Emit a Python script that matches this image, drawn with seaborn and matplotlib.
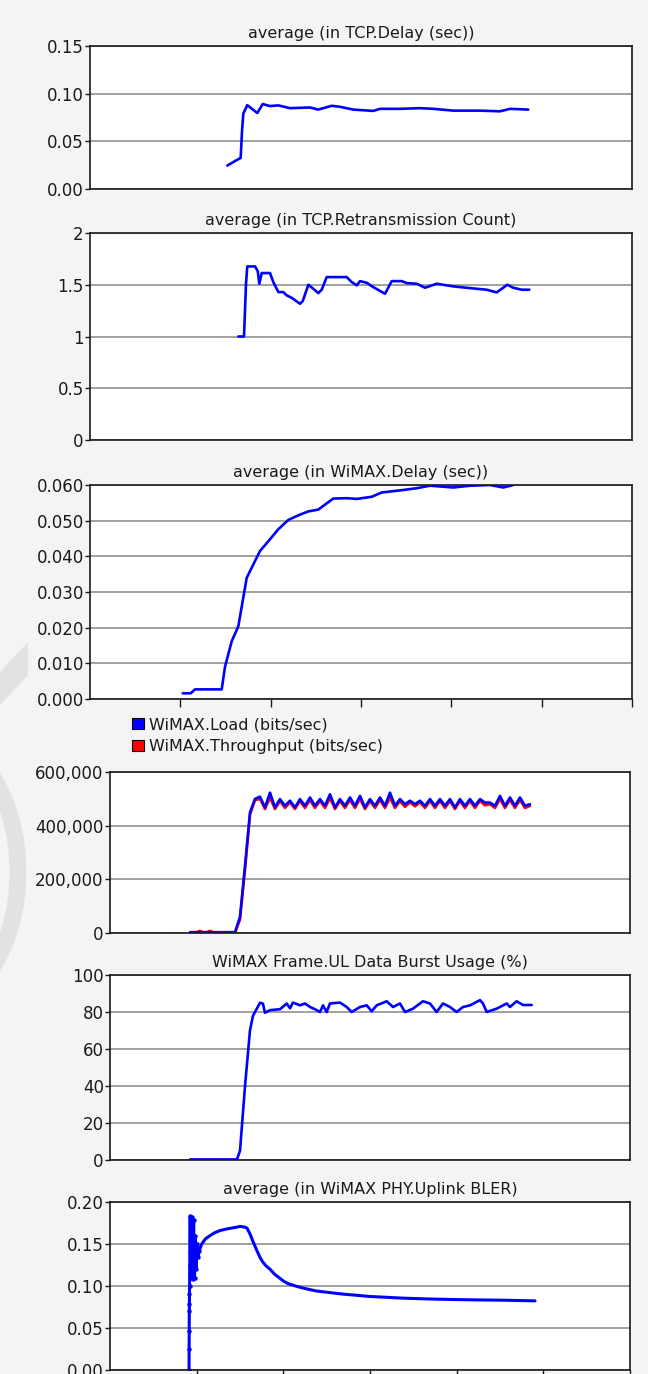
import numpy as np
import matplotlib
matplotlib.use("Agg")
import matplotlib.pyplot as plt
import seaborn as sns
from matplotlib.patches import Patch, Polygon, Ellipse

# ---------------- data (time axis in simulation intervals, 0..6) ----------------
tcp_delay_t = [1.520, 1.605, 1.668, 1.683, 1.697, 1.741, 1.852, 1.912, 1.993, 2.085,
               2.214, 2.436, 2.527, 2.676, 2.768, 2.915, 3.136, 3.210, 3.432, 3.653,
               3.800, 4.022, 4.317, 4.539, 4.650, 4.852]
tcp_delay = [0.0246, 0.0293, 0.0326, 0.0609, 0.0790, 0.0880, 0.0797, 0.0891, 0.0870, 0.0877,
             0.0848, 0.0855, 0.0833, 0.0873, 0.0862, 0.0833, 0.0819, 0.0841, 0.0841, 0.0848,
             0.0841, 0.0822, 0.0822, 0.0815, 0.0841, 0.0833]

tcp_retx_t = [1.642, 1.705, 1.727, 1.741, 1.827, 1.857, 1.874, 1.901, 1.993, 2.029,
              2.085, 2.140, 2.178, 2.233, 2.325, 2.355, 2.417, 2.472, 2.527, 2.565,
              2.620, 2.842, 2.897, 2.953, 2.989, 3.063, 3.136, 3.266, 3.340, 3.451,
              3.506, 3.617, 3.709, 3.838, 4.022, 4.281, 4.392, 4.502, 4.620, 4.686,
              4.779, 4.863]
tcp_retx = [1.000, 1.000, 1.510, 1.677, 1.677, 1.632, 1.510, 1.613, 1.613, 1.526,
            1.429, 1.429, 1.397, 1.374, 1.316, 1.342, 1.500, 1.461, 1.419, 1.452,
            1.574, 1.574, 1.526, 1.494, 1.535, 1.519, 1.477, 1.413, 1.535, 1.535,
            1.516, 1.510, 1.471, 1.510, 1.484, 1.461, 1.452, 1.426, 1.500, 1.471,
            1.452, 1.452]

wimax_delay_t = [1.026, 1.115, 1.162, 1.458, 1.495, 1.569, 1.642, 1.735, 1.790, 1.882,
                 1.993, 2.085, 2.195, 2.306, 2.417, 2.527, 2.693, 2.842, 2.953, 3.119,
                 3.229, 3.468, 3.617, 3.764, 4.022, 4.207, 4.428, 4.575, 4.686]
wimax_delay = [0.0016, 0.0016, 0.0027, 0.0027, 0.0091, 0.0162, 0.0204, 0.0340, 0.0368, 0.0415,
               0.0448, 0.0476, 0.0502, 0.0515, 0.0526, 0.0531, 0.0562, 0.0563, 0.0561, 0.0567,
               0.0579, 0.0586, 0.0591, 0.0598, 0.0593, 0.0598, 0.0600, 0.0593, 0.0600]

# load / throughput sampled on a regular statistic-collection grid
rate_t0, rate_t1 = 0.923, 4.846
wimax_load = [3000, 3000, 3000, 3000, 3000, 3000, 3000, 3000, 3000, 3000,
              60000, 250000, 450000, 500000,
              508000, 468000, 523000, 468000, 499000, 474000, 493000, 468000, 499000, 474000,
              505000, 474000, 499000, 474000, 517000, 468000, 499000, 474000, 505000, 474000,
              511000, 468000, 499000, 474000, 505000, 474000, 523000, 474000, 499000, 480000,
              493000, 480000, 493000, 474000, 499000, 474000, 499000, 474000, 499000, 468000,
              499000, 474000, 499000, 474000, 499000, 486000, 486000, 474000, 511000, 474000,
              505000, 474000, 505000, 474000, 480000]
wimax_throughput = [0, 0, 8000, 0, 8000, 0, 0, 0, 0, 0,
                    50000, 235000, 440000, 495000,
                    500000, 462000, 505000, 462000, 492000, 466000, 487000, 462000, 492000, 466000,
                    496000, 466000, 492000, 466000, 503000, 462000, 492000, 466000, 496000, 466000,
                    500000, 462000, 492000, 466000, 496000, 466000, 505000, 466000, 492000, 470000,
                    487000, 472000, 487000, 466000, 492000, 466000, 492000, 466000, 492000, 462000,
                    492000, 466000, 492000, 466000, 492000, 476000, 480000, 466000, 500000, 466000,
                    496000, 466000, 496000, 466000, 474000]

burst_t = [0.923, 1.465, 1.500, 1.558, 1.615, 1.650, 1.696, 1.731, 1.765, 1.788,
           1.846, 1.962, 2.039, 2.077, 2.111, 2.192, 2.250, 2.308, 2.365, 2.423,
           2.458, 2.500, 2.538, 2.654, 2.731, 2.789, 2.885, 2.962, 3.019, 3.077,
           3.193, 3.265, 3.346, 3.404, 3.496, 3.611, 3.692, 3.769, 3.842, 3.923,
           4.000, 4.073, 4.154, 4.269, 4.304, 4.346, 4.462, 4.577, 4.615, 4.692,
           4.765, 4.865]
burst_usage = [0.3, 0.3, 5.0, 40.0, 70.0, 78.0, 82.0, 85.0, 84.5, 79.6,
               81.0, 81.5, 84.6, 82.0, 85.1, 83.6, 84.6, 82.7, 81.5, 80.0,
               83.6, 80.0, 84.6, 85.1, 82.7, 80.0, 82.7, 83.6, 80.4, 83.6,
               85.8, 82.7, 84.6, 80.0, 81.8, 85.8, 84.6, 80.0, 84.6, 82.7,
               80.0, 82.7, 83.6, 86.4, 84.6, 80.0, 81.8, 84.6, 82.7, 85.8,
               83.8, 83.8]

bler_t = [0.912, 0.913, 0.914, 0.915, 0.916, 0.917, 0.918, 0.919, 0.920, 0.921,
          0.922, 0.925, 0.935, 0.945, 0.955, 0.965, 0.975, 0.985, 0.995, 1.005,
          1.015, 1.030, 1.058, 1.100, 1.154, 1.200, 1.269, 1.350, 1.461, 1.500,
          1.558, 1.580, 1.615, 1.650, 1.700, 1.731, 1.760, 1.800, 1.846, 1.900,
          1.950, 2.000, 2.050, 2.154, 2.250, 2.385, 2.550, 2.692, 2.850, 3.000,
          3.200, 3.385, 3.700, 3.962, 4.200, 4.538, 4.904]
bler = [0.000, 0.025, 0.046, 0.070, 0.078, 0.090, 0.100, 0.112, 0.125, 0.140,
        0.155, 0.183, 0.110, 0.182, 0.108, 0.178, 0.110, 0.160, 0.120, 0.150,
        0.135, 0.142, 0.150, 0.156, 0.160, 0.163, 0.166, 0.168, 0.170, 0.171,
        0.170, 0.169, 0.162, 0.153, 0.141, 0.134, 0.129, 0.124, 0.120, 0.114,
        0.110, 0.106, 0.103, 0.0996, 0.097, 0.094, 0.092, 0.0903, 0.0889, 0.0875,
        0.0865, 0.0855, 0.0845, 0.0839, 0.0835, 0.0831, 0.0823]

titles = ["average (in TCP.Delay (sec))",
          "average (in TCP.Retransmission Count)",
          "average (in WiMAX.Delay (sec))",
          None,
          "WiMAX Frame.UL Data Burst Usage (%)",
          "average (in WiMAX PHY.Uplink BLER)"]
legend_labels = ["WiMAX.Load (bits/sec)", "WiMAX.Throughput (bits/sec)"]

ytick_values = [[0.00, 0.05, 0.10, 0.15],
                [0, 0.5, 1, 1.5, 2],
                [0.000, 0.010, 0.020, 0.030, 0.040, 0.050, 0.060],
                [0, 200000, 400000, 600000],
                [0, 20, 40, 60, 80, 100],
                [0.00, 0.05, 0.10, 0.15, 0.20]]
ytick_labels = [["0.00", "0.05", "0.10", "0.15"],
                ["0", "0.5", "1", "1.5", "2"],
                ["0.000", "0.010", "0.020", "0.030", "0.040", "0.050", "0.060"],
                ["0", "200,000", "400,000", "600,000"],
                ["0", "20", "40", "60", "80", "100"],
                ["0.00", "0.05", "0.10", "0.15", "0.20"]]

# ---------------- styling ----------------
sns.set_style("white")
plt.rcParams["font.family"] = ["DejaVu Sans"]

BLUE = "#0000ff"
RED = "#ff0000"
BG = "#f4f4f4"
GRID = "#a0a0a0"
INK = "#1a1a1a"
SHADE = "#e2e2e2"

W, H = 648, 1374
fig = plt.figure(figsize=(W / 100, H / 100), dpi=100, facecolor=BG)

# faint background shapes along the left margin (kept clear of the tick labels)
fig.patches.append(Polygon([(0, 1 - 705 / H), (0, 1 - 672 / H), (28 / W, 1 - 642 / H),
                            (28 / W, 1 - 675 / H)], closed=True, transform=fig.transFigure,
                           facecolor=SHADE, edgecolor="none", zorder=-1))
fig.patches.append(Ellipse((-70 / W, 1 - 872 / H), 176 / W, 270 / H, transform=fig.transFigure,
                           facecolor="none", edgecolor=SHADE, linewidth=12, zorder=-1))


def px_axes(left, right, top, bottom):
    return fig.add_axes([left / W, 1 - bottom / H, (right - left) / W, (bottom - top) / H])


boxes = [(90, 632, 46, 189), (90, 632, 233, 440), (90, 632, 485, 699),
         (110, 630, 772, 933), (110, 630, 975, 1160), (110, 630, 1202, 1370)]
axes = [px_axes(*b) for b in boxes]

line_kw = dict(color=BLUE, linewidth=1.9, estimator=None, sort=False)

sns.lineplot(x=tcp_delay_t, y=tcp_delay, ax=axes[0], **line_kw)
sns.lineplot(x=tcp_retx_t, y=tcp_retx, ax=axes[1], **line_kw)
sns.lineplot(x=wimax_delay_t, y=wimax_delay, ax=axes[2], **line_kw)

rate_t = np.linspace(rate_t0, rate_t1, len(wimax_load))
sns.lineplot(x=rate_t, y=wimax_throughput, ax=axes[3], color=RED, linewidth=1.9,
             estimator=None, sort=False)
sns.lineplot(x=rate_t, y=wimax_load, ax=axes[3], **line_kw)

sns.lineplot(x=burst_t, y=burst_usage, ax=axes[4], **line_kw)
sns.lineplot(x=bler_t, y=bler, ax=axes[5], marker="o", markersize=3.2,
             markeredgewidth=0, markevery=list(range(22)), **line_kw)
axes[5].lines[0].set_linewidth(2.2)

for i, ax in enumerate(axes):
    ax.set_facecolor("white")
    ax.set_xlim(0, 6)
    ax.set_ylim(ytick_values[i][0], ytick_values[i][-1])
    ax.set_yticks(ytick_values[i])
    ax.set_yticklabels(ytick_labels[i])
    ax.set_xlabel("")
    ax.set_ylabel("")
    ax.yaxis.grid(True, color=GRID, linewidth=1.4)
    ax.xaxis.grid(False)
    ax.set_axisbelow(True)
    for sp in ax.spines.values():
        sp.set_visible(True)
        sp.set_color(INK)
        sp.set_linewidth(1.2)
    ax.tick_params(axis="y", left=True, length=3.5, width=1, color=INK,
                   labelsize=12, labelcolor=INK, pad=1)
    if i in (2, 5):
        ax.set_xticks(range(1, 7))
        ax.tick_params(axis="x", bottom=True, length=6, width=1, color=INK,
                       labelbottom=False)
    else:
        ax.set_xticks([])
    if titles[i]:
        ax.set_title(titles[i], fontsize=11.5, color=INK, pad=6)

handles = [Patch(facecolor=BLUE, edgecolor="black", linewidth=0.8, label=legend_labels[0]),
           Patch(facecolor=RED, edgecolor="black", linewidth=0.8, label=legend_labels[1])]
fig.legend(handles=handles, loc="upper left", bbox_to_anchor=(132 / W, 1 - 717 / H),
           frameon=False, fontsize=11.5, handlelength=0.75, handleheight=0.75,
           handletextpad=0.3, labelspacing=0.45, borderaxespad=0, borderpad=0,
           labelcolor=INK)

fig.savefig("out.png", dpi=100, facecolor=BG)
